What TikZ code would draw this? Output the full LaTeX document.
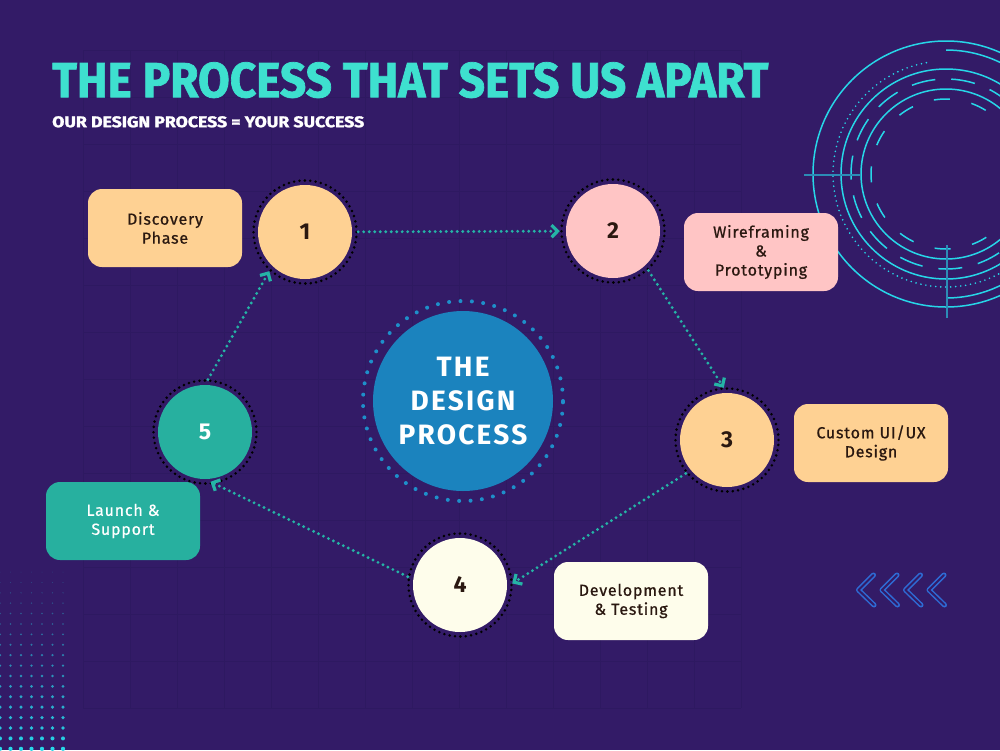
\documentclass[tikz,border=0pt]{standalone}
\usepackage{fontspec}
\usepackage{graphicx}
\setmainfont{Fira Sans}
\newfontfamily\labelfont{Fira Sans}[LetterSpace=5.0,FakeBold=0.8]
\newfontfamily\headfont{Fira Sans}[FakeBold=1.5]
\newfontfamily\corefont{Fira Sans}[LetterSpace=8.0]
\usetikzlibrary{arrows.meta,positioning,calc}
\definecolor{bgpurple}{HTML}{331B67}
\definecolor{gridpurple}{HTML}{2E1961}
\definecolor{titleteal}{HTML}{3EE0CF}
\definecolor{peach}{HTML}{FED193}
\definecolor{rose}{HTML}{FFC5C5}
\definecolor{cream}{HTML}{FEFDEB}
\definecolor{jade}{HTML}{27B09F}
\definecolor{coreblue}{HTML}{1B83BE}
\definecolor{coredot}{HTML}{1E8FCA}
\definecolor{arrowteal}{HTML}{25B4A6}
\definecolor{decocyan}{HTML}{27D6E8}
\definecolor{crossblue}{HTML}{2C8CB6}
\definecolor{chevblue}{HTML}{2E6BD5}
\definecolor{darktext}{HTML}{2A1810}
\tikzset{num/.style={circle,minimum size=94pt,inner sep=0pt,text=darktext,font=\bfseries\fontsize{23}{23}\selectfont},
  ring/.style={draw=black,line width=2.8pt,dash pattern=on 0pt off 5.4pt,line cap=round},
  stagebox/.style={rounded corners=14pt,minimum width=154pt,minimum height=78pt,align=center,inner sep=2pt,text=darktext,font=\labelfont\fontsize{16}{19}\selectfont},
  arr/.style={draw=arrowteal,line width=3.2pt,dash pattern=on 0pt off 5.5pt,line cap=round,shorten <=6pt,shorten >=6pt,-{Straight Barb[length=6pt,width=12pt]}},
  deco/.style={draw=decocyan,line width=1.5pt},
  gridline/.style={draw=gridpurple,line width=1pt}}

\begin{document}
\begin{tikzpicture}[x=1pt,y=-1pt]
\fill[bgpurple] (0,0) rectangle (1000,750);
\useasboundingbox (0,0) rectangle (1000,750);
% faint grid
\foreach \gx in {83,130,...,742} \draw[gridline] (\gx,50) -- (\gx,708);
\foreach \gy in {50,97,...,709} \draw[gridline] (83,\gy) -- (741,\gy);
% heading
\node[anchor=north west,inner sep=0pt,text=titleteal] (title) at (52,62) {\resizebox{716pt}{35pt}{\headfont\bfseries THE PROCESS THAT SETS US APART}};
\node[anchor=north west,inner sep=0pt,text=white] (subtitle) at (52,116) {\resizebox{312pt}{11pt}{\headfont\bfseries OUR DESIGN PROCESS = YOUR SUCCESS}};
% rings top right
\begin{scope}[shift={(946,174)},x=1pt,y=1pt]
\draw[deco] (0,0) circle[radius=133pt];
\draw[deco] (90:124) arc[start angle=90,end angle=55,radius=124pt];
\draw[deco] (270:124) arc[start angle=270,end angle=320,radius=124pt];
\draw[deco,line width=1.8pt,dash pattern=on 0pt off 5pt,line cap=round] (100:113) arc[start angle=100,end angle=300,radius=113pt];
\draw[deco] (0,0) circle[radius=105pt];
\draw[deco,dash pattern=on 24pt off 16pt] (0,0) circle[radius=95pt];
\draw[deco] (0,0) circle[radius=85pt];
\draw[deco,dash pattern=on 16pt off 22pt] (0,0) circle[radius=75pt];
\draw[draw=crossblue,line width=1.5pt] (-142,-1) -- (-86,-1);
\draw[draw=crossblue,line width=1.5pt] (1,-71) -- (1,-144);
\end{scope}
% dots bottom left
\foreach \r [evaluate=\r as \dotr using 0.5+1.6*\r/17, evaluate=\r as \dotop using 0.15+0.85*\r/17] in {0,...,17}
  \foreach \c in {0,...,6}
    \fill[decocyan,opacity=\dotop] (10.5*\c,572+10.4*\r) circle[radius=\dotr pt];
% chevrons bottom right
\foreach \k in {0,...,3} {
  \draw[chevblue,line width=5pt,line cap=round,line join=round] (873.5+23.5*\k,575) -- (858.5+23.5*\k,590) -- (874+23.5*\k,605);
  \draw[bgpurple,line width=2pt,line cap=round,line join=round] (873.5+23.5*\k,575) -- (858.5+23.5*\k,590) -- (874+23.5*\k,605);
}
% centre
\node[circle,fill=coreblue,minimum size=180pt,inner sep=0pt,align=center,text=white,font=\corefont\bfseries\fontsize{28}{34}\selectfont] (core) at (463,401) {THE\\DESIGN\\PROCESS};
\draw[draw=coredot,line width=4pt,dash pattern=on 0pt off 11.4pt,line cap=round] (core) circle[radius=100pt];
% stages
\node[num,fill=peach] (s1) at (305,232) {1};
\node[num,fill=rose] (s2) at (613,231) {2};
\node[num,fill=peach] (s3) at (727,440) {3};
\node[num,fill=cream] (s4) at (460,585) {4};
\node[num,fill=jade,text=white] (s5) at (205,432) {5};
\foreach \s in {s1,s2,s3,s4,s5} \draw[ring] (\s) circle[radius=51.5pt];
\draw[arr] (s1) -- (s2);
\draw[arr] (s2.-47) -- (s3.north);
\draw[arr] (s3.220) -- (s4.-2);
\draw[arr] (s4.173) -- (s5.south);
\draw[arr] (s5.north) -- (s1.226);
% labels
\node[stagebox,fill=peach] (discovery) at (165,228) {Discovery\\Phase};
\node[stagebox,fill=rose] (wireframe) at (761,252) {Wireframing\\\&\\Prototyping};
\node[stagebox,fill=peach] (uiux) at (871,443) {Custom UI/UX\\Design};
\node[stagebox,fill=cream] (devtest) at (631,601) {Development\\\& Testing};
\node[stagebox,fill=jade,text=white] (launch) at (123,521) {Launch \&\\Support};
\end{tikzpicture}
\end{document}
